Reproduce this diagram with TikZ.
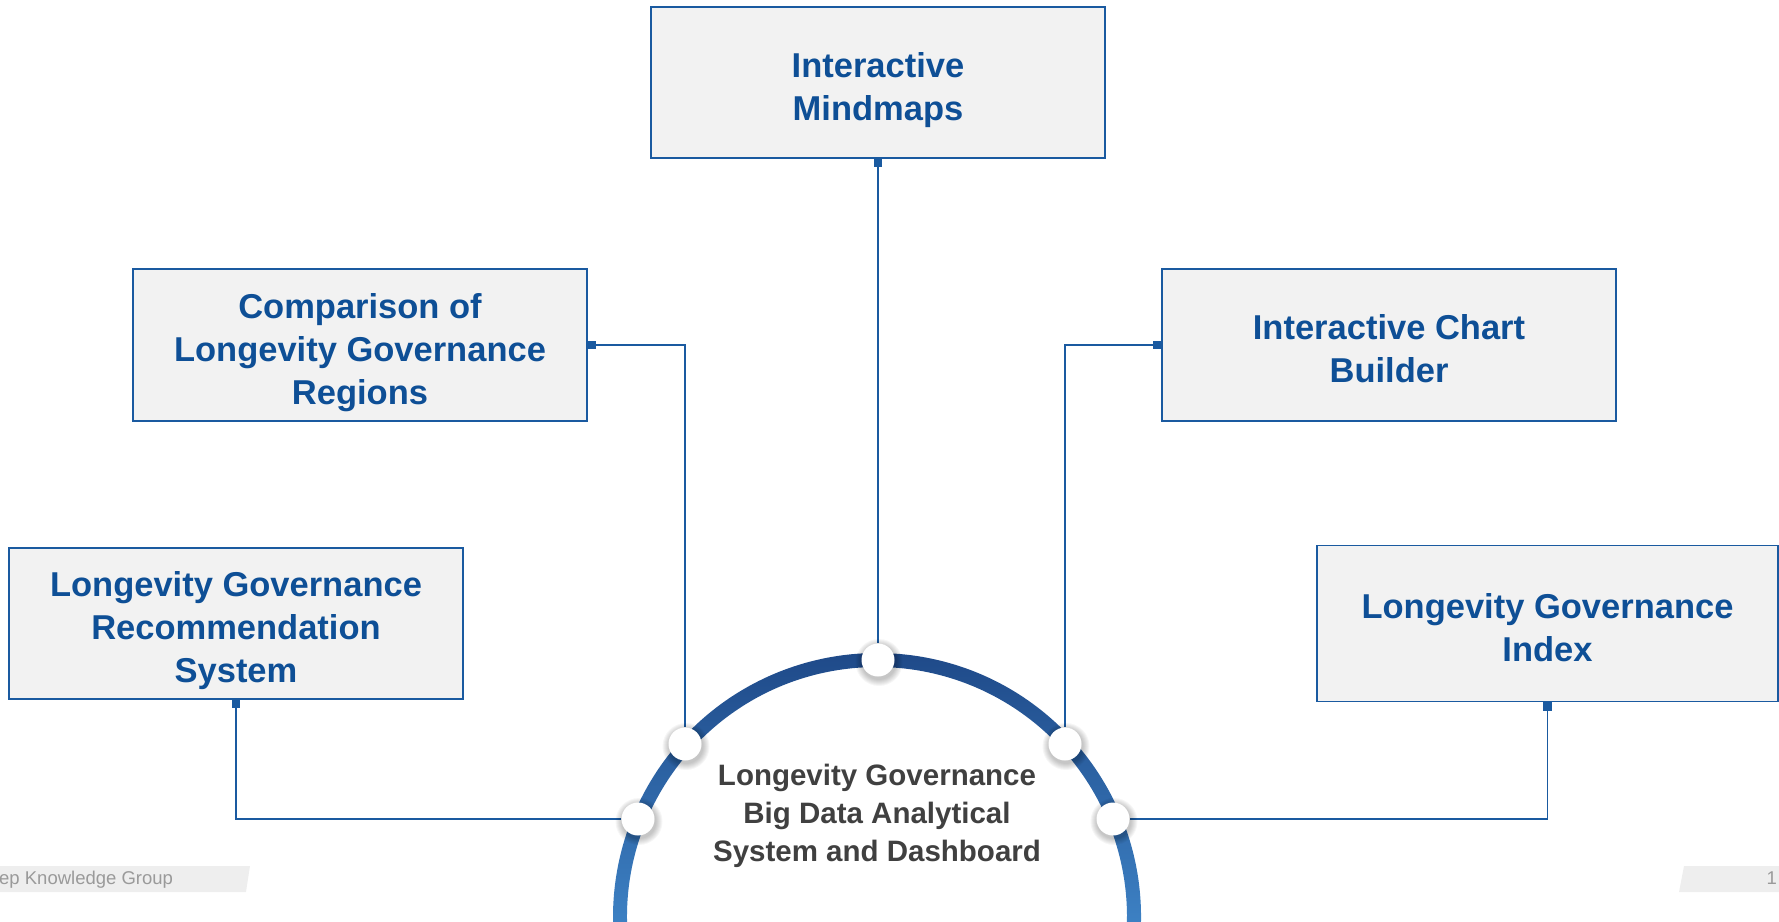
\documentclass[tikz,border=0pt]{standalone}
\usepackage{fontspec}
\setmainfont{Liberation Sans}
\usetikzlibrary{arrows.meta}
\pgfdeclarelayer{bg}
\pgfsetlayers{bg,main}
\definecolor{tblue}{HTML}{0E4F96}
\definecolor{lblue}{HTML}{1A5AA0}
\definecolor{boxfill}{HTML}{F2F2F2}
\definecolor{ctext}{HTML}{404040}
\definecolor{ringtop}{HTML}{1E4887}
\definecolor{ringbot}{HTML}{3F85C8}
\definecolor{footbg}{HTML}{EEEEEE}
\definecolor{foottext}{HTML}{9A9A9A}
\newcommand\topstrut{\rule{0pt}{40pt}}
\newcommand\botstrut{\rule[-8pt]{0pt}{8pt}}
\tikzset{
  box/.style={draw=lblue, line width=1.7pt, fill=boxfill, text=tblue,
    align=center, inner sep=4pt, minimum width=454pt,
    font=\fontsize{34.5}{43}\selectfont\bfseries},
  conn/.style={draw=lblue, line width=1.7pt, {Square[length=8.5pt,width=8.5pt]}-},
  dot/.style={circle, fill=white, minimum size=33pt, inner sep=0pt},
  centertext/.style={text=ctext, align=center,
    font=\fontsize{29.5}{38}\selectfont\bfseries},
}
\begin{document}
\begin{tikzpicture}[x=1pt,y=1pt]
\useasboundingbox (0,0) rectangle (1779,-921);
\clip (0,0) rectangle (1779,-921);

% boxes
\node[box, minimum height=151pt] (mind) at (878,-82.5) {\topstrut Interactive\\Mindmaps\botstrut};
\node[box, minimum height=152pt] (comp) at (360,-345) {\topstrut Comparison of\\Longevity Governance\\Regions\botstrut};
\node[box, minimum height=152pt] (chart) at (1389,-345) {\topstrut Interactive Chart\\Builder\botstrut};
\node[box, minimum height=151pt] (rec) at (236,-623.5) {\topstrut Longevity Governance\\Recommendation\\System\botstrut};
\node[box, minimum height=156pt, minimum width=461pt] (index) at (1547.5,-623.5) {\topstrut Longevity Governance\\Index\botstrut};

% soft shadows of the circles
\foreach \p in {(638,-819),(685,-744),(878,-660),(1065,-744),(1113,-819)}{
  \foreach \k in {1,...,7}{
    \fill[black, opacity=0.035] \p ++(1,-2.5) circle ({16.5+\k});
  }
}

% circles on the ring
\node[dot] (c1) at (638,-819) {};
\node[dot] (c2) at (685,-744) {};
\node[dot] (c3) at (878,-660) {};
\node[dot] (c4) at (1065,-744) {};
\node[dot] (c5) at (1113,-819) {};

\begin{pgfonlayer}{bg}
  % ring
  \shade[top color=ringtop, bottom color=ringbot]
    (877,-917) ++(-6:264) arc[start angle=-6, end angle=186, radius=264]
    -- ++(6:14) arc[start angle=186, end angle=-6, radius=250] -- cycle;
  % connectors
  \draw[conn] (mind.south) -- (c3);
  \draw[conn] (comp.east) -| (c2);
  \draw[conn] (chart.west) -| (c4);
  \draw[conn] (rec.south) |- (c1);
  \draw[conn] (index.south) |- (c5);
\end{pgfonlayer}

% centre text
\node[centertext] (center) at (877,-816) {Longevity Governance\\Big Data Analytical\\System and Dashboard};

% footer
\fill[footbg] (0,-866) -- (250,-866) -- (246,-892) -- (0,-892) -- cycle;
\fill[footbg] (1684,-866) -- (1779,-866) -- (1779,-892) -- (1679,-892) -- cycle;
\node[anchor=base west, inner sep=0pt, text=foottext, font=\fontsize{18.5}{19}\selectfont] (foot) at (-1,-884) {ep Knowledge Group};
\node[anchor=base east, inner sep=0pt, text=foottext, font=\fontsize{18.5}{19}\selectfont] (page) at (1777,-884) {1};
\end{tikzpicture}
\end{document}
